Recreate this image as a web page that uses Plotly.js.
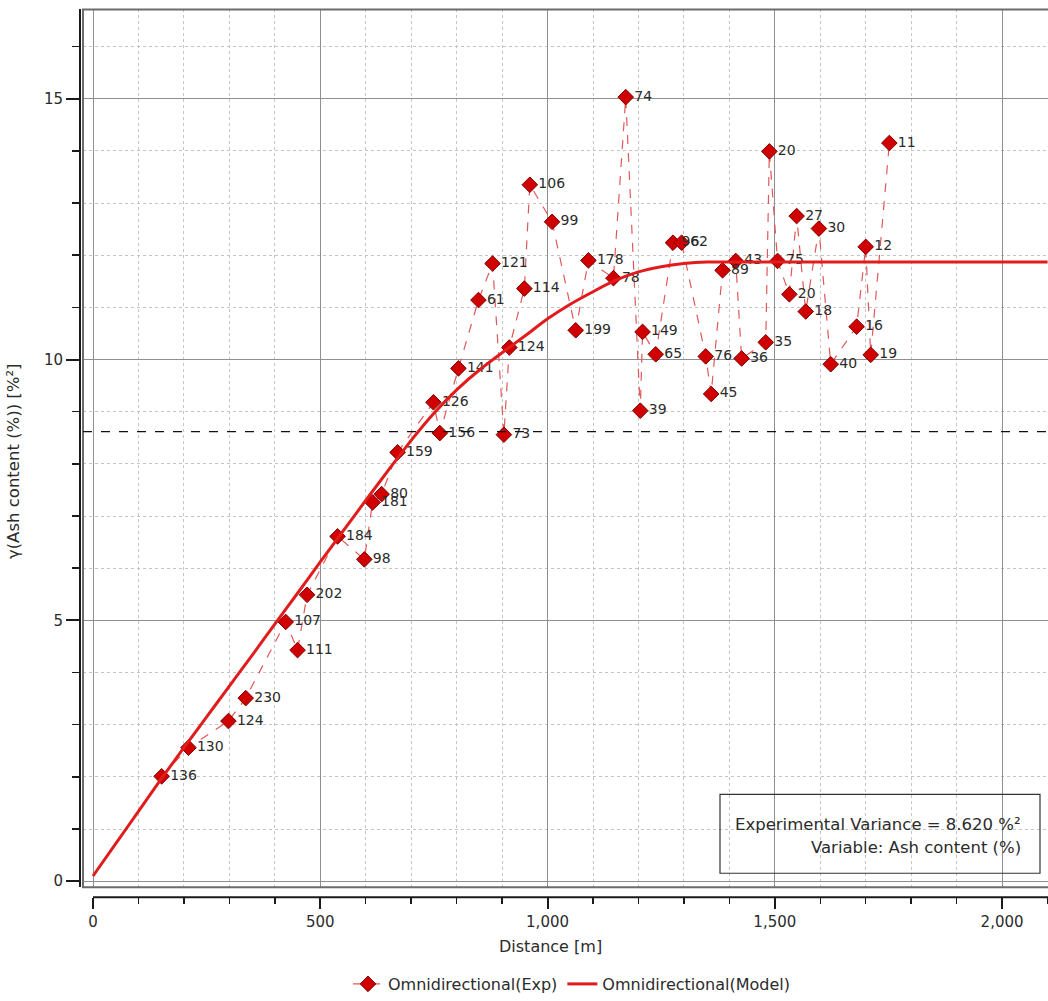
<!DOCTYPE html>
<html>
<head>
<meta charset="utf-8">
<script src="https://cdn.plot.ly/plotly-3.0.1.min.js"></script>
<style>
  html, body { margin: 0; padding: 0; background: #ffffff; }
  #chart { width: 1048px; height: 1001px; }
</style>
</head>
<body>
<div id="chart"></div>
<script>
// Experimental semivariogram (omnidirectional), lag distance in metres
const lagDistance = [151, 210, 298, 336, 424, 450, 471, 538, 597, 615, 635, 670,
  749, 763, 804, 848, 879, 904, 916, 949, 961, 1010, 1062, 1090, 1145, 1172,
  1204, 1209, 1238, 1276, 1295, 1348, 1360, 1385, 1414, 1427, 1480, 1488,
  1506, 1532, 1548, 1568, 1597, 1623, 1680, 1700, 1711, 1752];
const gammaExp = [2.01, 2.56, 3.07, 3.51, 4.97, 4.43, 5.49, 6.61, 6.17, 7.26, 7.42, 8.22,
  9.18, 8.59, 9.83, 11.14, 11.84, 8.56, 10.23, 11.36, 13.35, 12.64, 10.56, 11.90, 11.56, 15.03,
  9.02, 10.53, 10.10, 12.24, 12.24, 10.06, 9.34, 11.71, 11.89, 10.02, 10.33, 13.99,
  11.89, 11.25, 12.75, 10.92, 12.51, 9.91, 10.63, 12.16, 10.09, 14.15];
const pairCount = [136, 130, 124, 230, 107, 111, 202, 184, 98, 181, 80, 159,
  126, 156, 141, 61, 121, 73, 124, 114, 106, 99, 199, 178, 78, 74,
  39, 149, 65, 96, 62, 76, 45, 89, 43, 36, 35, 20,
  75, 20, 27, 18, 30, 40, 16, 12, 19, 11];

// Fitted model curve
const modelDistance = [0, 50, 100, 150, 200, 250, 300, 350, 400, 450, 500, 550, 600, 650,
  700, 750, 800, 850, 900, 950, 1000, 1050, 1100, 1150, 1200, 1250, 1300, 1350,
  1400, 1500, 1600, 1700, 1800, 1900, 2000, 2100];
const gammaModel = [0.10, 0.72, 1.34, 1.96, 2.56, 3.15, 3.74, 4.33, 4.93, 5.52, 6.12, 6.71, 7.30, 7.88,
  8.45, 8.97, 9.42, 9.80, 10.13, 10.45, 10.78, 11.06, 11.30, 11.52, 11.68, 11.78, 11.84, 11.87,
  11.87, 11.87, 11.87, 11.87, 11.87, 11.87, 11.87, 11.87];

const expVariance = 8.620;
const variableName = 'Ash content (%)';

const W = 1048, H = 1001;
const px = v => v / W;          // pixel column -> paper x
const py = v => 1 - v / H;      // pixel row -> paper y

const FONT = "'DejaVu Sans', 'Noto Sans', sans-serif";
const TXT = '#2b2b2b';

const traces = [
  {
    type: 'scatter',
    name: 'Omnidirectional(Exp)',
    x: lagDistance,
    y: gammaExp,
    text: pairCount.map(String),
    mode: 'lines+markers+text',
    textposition: 'middle right',
    textfont: { family: FONT, size: 14, color: TXT },
    line: { color: '#e0585a', width: 1.2, dash: 'dash' },
    marker: { symbol: 'diamond', size: 12, color: '#d10000',
              line: { color: '#7c0000', width: 1 } },
    cliponaxis: false
  },
  {
    type: 'scatter',
    name: 'Omnidirectional(Model)',
    x: modelDistance,
    y: gammaModel,
    mode: 'lines',
    line: { color: '#e01c1c', width: 3, shape: 'spline', smoothing: 0.6 }
  }
];

const layout = {
  width: W, height: H,
  margin: { l: 0, r: 0, t: 0, b: 0, pad: 0 },
  paper_bgcolor: '#ffffff',
  plot_bgcolor: '#ffffff',
  font: { family: FONT, size: 15, color: TXT },
  showlegend: true,
  legend: {
    orientation: 'h', x: px(572), xanchor: 'center', y: py(986), yanchor: 'middle',
    font: { family: FONT, size: 16, color: TXT }, bgcolor: 'rgba(0,0,0,0)'
  },
  xaxis: {
    domain: [px(83), 1],
    range: [-22, 2101],
    anchor: 'free', position: py(899),
    automargin: false,
    tickmode: 'linear', tick0: 0, dtick: 500,
    tickformat: ',d',
    ticks: 'outside', ticklen: 11, tickwidth: 2, tickcolor: '#1a1a1a',
    showline: false, zeroline: false,
    showgrid: true, gridcolor: '#8f8f8f', gridwidth: 1,
    tickfont: { family: FONT, size: 15, color: TXT },
    minor: { dtick: 100, ticks: 'outside', ticklen: 6, tickwidth: 1.5, tickcolor: '#1a1a1a',
             showgrid: true, gridcolor: '#c4c4c4', griddash: 'dot', gridwidth: 1 }
  },
  yaxis: {
    domain: [py(889), py(9.5)],
    range: [-0.115, 16.71],
    anchor: 'free', position: px(80),
    automargin: false,
    tickmode: 'linear', tick0: 0, dtick: 5,
    ticks: 'outside', ticklen: 13, tickwidth: 2, tickcolor: '#1a1a1a',
    showline: true, linecolor: '#1a1a1a', linewidth: 2,
    zeroline: false,
    showgrid: true, gridcolor: '#8f8f8f', gridwidth: 1,
    tickfont: { family: FONT, size: 15, color: TXT },
    minor: { dtick: 1, ticks: 'outside', ticklen: 7, tickwidth: 1.5, tickcolor: '#1a1a1a',
             showgrid: true, gridcolor: '#c4c4c4', griddash: 'dot', gridwidth: 1 }
  },
  shapes: [
    // plot frame
    { type: 'rect', xref: 'paper', yref: 'paper',
      x0: px(83), x1: px(1060), y0: py(889), y1: py(9.5),
      line: { color: '#6c6c6c', width: 2 }, layer: 'above' },
    // distance axis line starting at zero lag
    { type: 'line', xref: 'x', yref: 'paper', x0: 0, x1: 2101, y0: py(899), y1: py(899),
      line: { color: '#1a1a1a', width: 2 } },
    // experimental variance (sill reference)
    { type: 'line', xref: 'x domain', yref: 'y', x0: 0, x1: 1, y0: expVariance, y1: expVariance,
      line: { color: '#111111', width: 1.3, dash: 'dash' } },
    // info box
    { type: 'rect', xref: 'paper', yref: 'paper',
      x0: px(720), x1: px(1040), y0: py(875), y1: py(796),
      line: { color: '#333333', width: 1.2 } }
  ],
  annotations: [
    { xref: 'paper', yref: 'paper', x: px(1023), y: py(826), xanchor: 'right', yanchor: 'middle',
      text: 'Experimental Variance = ' + expVariance.toFixed(3) + ' %²', showarrow: false,
      font: { family: FONT, size: 16.5, color: TXT } },
    { xref: 'paper', yref: 'paper', x: px(1023), y: py(849), xanchor: 'right', yanchor: 'middle',
      text: 'Variable: ' + variableName, showarrow: false,
      font: { family: FONT, size: 16.5, color: TXT } },
    { xref: 'paper', yref: 'paper', x: px(550), y: py(948), xanchor: 'center', yanchor: 'middle',
      text: 'Distance [m]', showarrow: false,
      font: { family: FONT, size: 16, color: TXT } },
    { xref: 'paper', yref: 'paper', x: px(13), y: py(462), xanchor: 'center', yanchor: 'middle',
      text: 'γ(' + variableName + ') [%²]', textangle: -90, showarrow: false,
      font: { family: FONT, size: 16.5, color: TXT } }
  ]
};

Plotly.newPlot('chart', traces, layout, { displayModeBar: false, staticPlot: true });
</script>
</body>
</html>
